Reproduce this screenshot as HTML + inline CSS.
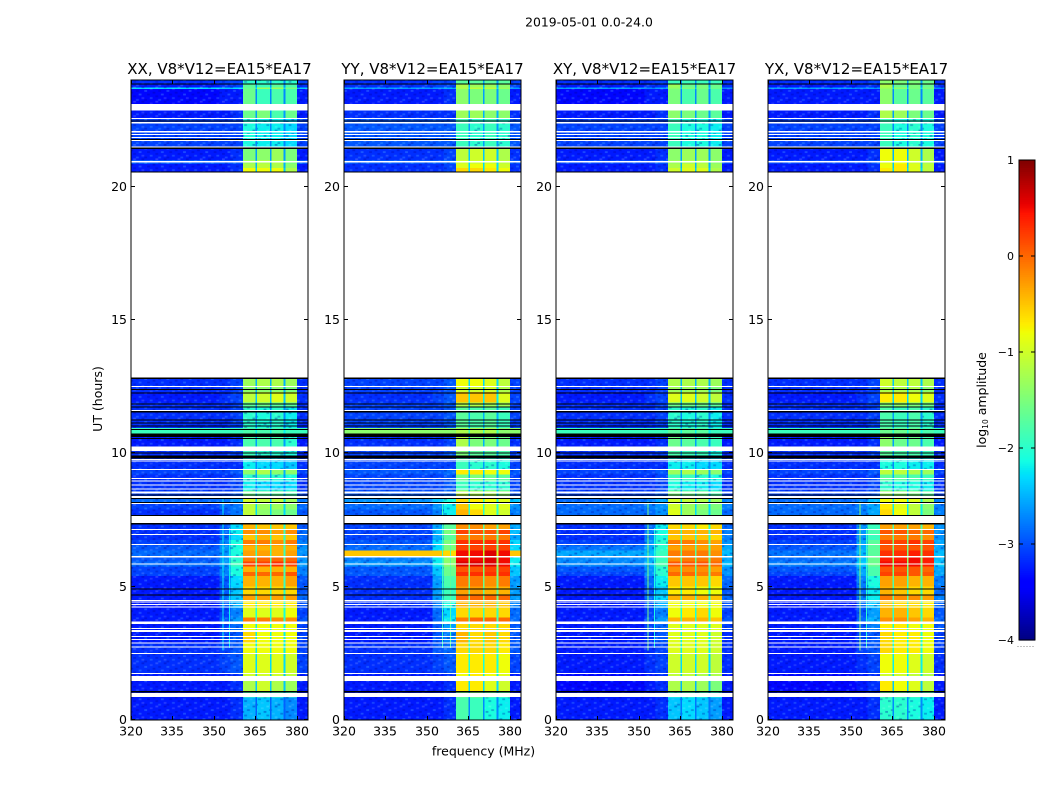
<!DOCTYPE html>
<html lang="en">
<head>
<meta charset="utf-8">
<title>2019-05-01 0.0-24.0</title>
<style>
html,body{margin:0;padding:0;background:#fff;}
#chart{display:block;width:1050px;height:800px;}
text{font-family:"DejaVu Sans","Liberation Sans",sans-serif;fill:#000;}
</style>
</head>
<body>
<svg id="chart" xmlns="http://www.w3.org/2000/svg" width="1050" height="800" viewBox="0 0 1050 800">
  <defs>
    <pattern id="speckle" width="22.2" height="14.4" patternUnits="userSpaceOnUse">
      <rect x="0" y="0" width="2.8" height="1.8" fill="#fff" opacity=".16"/>
      <rect x="8.3" y="0" width="2.8" height="1.8" fill="#0000a0" opacity=".35"/>
      <rect x="16.6" y="1.8" width="2.8" height="1.8" fill="#fff" opacity=".12"/>
      <rect x="2.8" y="3.6" width="2.8" height="1.8" fill="#0000a0" opacity=".3"/>
      <rect x="11.1" y="3.6" width="2.8" height="1.8" fill="#5fc8ff" opacity=".28"/>
      <rect x="19.4" y="5.4" width="2.8" height="1.8" fill="#0000a0" opacity=".35"/>
      <rect x="5.5" y="7.2" width="2.8" height="1.8" fill="#5fc8ff" opacity=".28"/>
      <rect x="13.9" y="7.2" width="2.8" height="1.8" fill="#0000a0" opacity=".3"/>
      <rect x="0" y="9" width="2.8" height="1.8" fill="#0000a0" opacity=".3"/>
      <rect x="8.3" y="10.8" width="2.8" height="1.8" fill="#fff" opacity=".14"/>
      <rect x="16.6" y="10.8" width="2.8" height="1.8" fill="#5fc8ff" opacity=".25"/>
      <rect x="2.8" y="12.6" width="2.8" height="1.8" fill="#5fc8ff" opacity=".25"/>
      <rect x="11.1" y="12.6" width="2.8" height="1.8" fill="#0000a0" opacity=".3"/>
    </pattern>
  </defs>
  <text x="589" y="26.5" text-anchor="middle" font-size="12.4">2019-05-01 0.0-24.0</text>
  <text x="483.5" y="755.5" text-anchor="middle" font-size="12.5">frequency (MHz)</text>
  <text x="0" y="0" transform="translate(102,399) rotate(-90)" text-anchor="middle" font-size="12.5">UT (hours)</text>
  <text x="0" y="0" transform="translate(986,400) rotate(-90)" text-anchor="middle" font-size="12.5">log<tspan font-size="7.5" dy="2">10</tspan><tspan dy="-2"> amplitude</tspan></text>
  <g id="panels"></g>
  <g id="colorbar"></g>
</svg>
<script>
/* ---------- data (log10 amplitude) ---------- */
const panelTitles = ["XX, V8*V12=EA15*EA17","YY, V8*V12=EA15*EA17","XY, V8*V12=EA15*EA17","YX, V8*V12=EA15*EA17"];
const xTickLabels = [320,335,350,365,380];
const yTickLabels = [0,5,10,15,20];
const colorbarTicks = [-4,-3,-2,-1,0,1];

/* frequency bands in MHz; bandColumn says which value of a row each band shows
   (row = background, near-1, near-2, window-1..4, window-gap) */
const freqEdges = [320,352,356,360.5,365,365.6,370.2,370.8,375.2,375.8,380,384];
const bandColumn = [0,1,2,3,7,4,7,5,7,6,1];

/* time bands in UT hours, top to bottom */
const utEdges = [24,23.85,23.72,23.66,22.86,22.55,21.44,21.0,20.85,20.7,20.54,12.85,12.5,12.3,11.9,11.75,10.95,10.73,10.25,9.8,9.41,9.2,8.95,8.6,8.33,8.15,7.9,7.65,7.15,6.95,6.75,6.55,6.35,6.15,5.95,5.75,5.55,5.4,5.0,4.7,4.5,4.2,3.85,3.7,3.35,2.9,2.5,1.76,1.46,1.06,0.85,0];

const xxValues = [
[-3.15,-3.05,-3.05,-2.0,-2.0,-2.0,-2.0,-2.7],[-3.25,-3.15,-3.05,-1.7,-1.9,-1.7,-1.8,-2.6],[-2.3,-2.4,-2.3,-1.6,-1.3,-1.3,-1.5,-2.3],[-3.35,-3.25,-3.25,-1.6,-1.9,-1.8,-1.8,-2.7],[-3.25,-3.25,-3.15,-1.6,-1.5,-1.8,-1.6,-2.6],
[-3.05,-3.05,-3.05,-2.1,-2.2,-2.2,-2.3,-2.7],[-3.25,-3.25,-3.15,-1.5,-1.4,-1.3,-1.5,-2.6],[-2.95,-2.95,-2.95,-1.3,-1.2,-1.2,-1.5,-2.5],[-3.25,-3.25,-3.15,-1.2,-1.1,-1.2,-1.4,-2.5],[-3.25,-3.25,-3.15,-0.8,-0.8,-0.8,-1.2,-2.4],
null,
[-3.15,-3.15,-3.05,-1.3,-1.2,-1.2,-1.3,-2.5],[-3.15,-3.15,-3.05,-1.4,-1.4,-1.4,-1.5,-2.5],[-3.25,-3.15,-3.05,-1.1,-1.0,-0.9,-1.0,-2.4],[-3.15,-3.15,-3.05,-1.7,-1.6,-1.7,-1.7,-2.6],[-3.15,-3.15,-3.05,-2.0,-2.1,-2.0,-2.2,-2.7],
[-1.9,-1.9,-1.9,-1.8,-1.8,-1.8,-1.9,-2.2],[-3.25,-3.25,-3.15,-1.8,-1.8,-1.8,-2.0,-2.6],[-3.15,-3.15,-3.05,-1.9,-2.0,-2.0,-2.1,-2.6],[-3.15,-3.15,-3.15,-2.2,-2.3,-2.3,-2.4,-2.7],[-3.05,-3.05,-2.95,-1.4,-1.2,-1.4,-1.4,-2.5],
[-3.15,-3.15,-3.05,-2.0,-1.9,-2.0,-2.1,-2.6],[-3.15,-3.15,-3.05,-2.2,-2.3,-2.3,-2.3,-2.7],[-3.05,-3.05,-2.95,-1.6,-1.7,-1.7,-1.8,-2.5],[-2.85,-2.8,-2.6,-1.0,-1.1,-1.1,-1.3,-2.3],[-3.05,-2.85,-2.8,-1.1,-1.3,-1.3,-1.4,-2.3],
[-3.15,-2.95,-2.8,-1.1,-1.4,-1.5,-1.6,-2.3],[-3.15,-2.95,-2.3,-0.4,-0.5,-0.5,-0.5,-2.0],[-3.15,-2.85,-2.2,-0.2,-0.2,-0.3,-0.2,-1.9],[-3.15,-2.85,-2.3,-0.5,-0.4,-0.5,-0.5,-2.0],[-3.05,-2.75,-2.1,-0.1,-0.1,-0.2,-0.1,-1.8],
[-2.95,-2.65,-2.1,-0.4,-0.4,-0.4,-0.4,-1.9],[-2.85,-2.65,-2.1,-0.3,-0.3,-0.4,-0.3,-1.9],[-2.95,-2.65,-2.0,-0.1,0.0,0.0,0.0,-1.8],[-2.85,-2.6,-1.9,0.2,0.2,0.3,0.2,-1.7],[-3.05,-2.75,-2.1,-0.4,-0.4,-0.4,-0.4,-1.9],
[-3.05,-2.75,-2.1,0.0,0.0,0.0,0.1,-1.8],[-3.25,-2.95,-2.3,-0.4,-0.4,-0.4,-0.3,-1.9],[-3.25,-2.95,-2.4,-0.6,-0.6,-0.6,-0.6,-2.0],[-3.25,-2.85,-2.4,-0.3,-0.3,-0.3,-0.3,-2.0],[-3.25,-2.95,-2.5,-0.7,-0.7,-0.7,-0.7,-2.1],
[-3.25,-3.05,-2.75,-0.9,-0.9,-0.9,-0.8,-2.1],[-3.25,-2.95,-2.6,-0.1,-0.1,-0.2,-0.2,-2.0],[-3.25,-3.05,-2.85,-0.8,-0.8,-0.8,-0.8,-2.2],[-3.25,-3.05,-2.95,-0.6,-0.8,-0.8,-0.8,-2.2],[-3.15,-3.05,-2.95,-0.8,-0.8,-0.8,-0.8,-2.2],
[-3.15,-3.05,-2.95,-0.9,-0.9,-0.9,-1.0,-2.3],[-3.25,-3.25,-3.15,-1.0,-1.0,-1.0,-1.1,-2.4],[-3.25,-3.25,-3.15,-1.2,-1.0,-1.2,-1.3,-2.4],[-3.25,-3.25,-3.15,-1.9,-1.8,-1.9,-2.0,-2.6],[-3.25,-3.25,-3.15,-2.5,-2.4,-2.5,-2.7,-2.9]
];
const yyValues = [
[-3.15,-3.05,-3.05,-1.7,-1.7,-1.7,-1.7,-2.6],[-3.15,-3.05,-3.05,-1.2,-1.3,-1.3,-1.4,-2.5],[-2.6,-2.6,-2.5,-1.2,-1.1,-1.1,-1.3,-2.3],[-3.25,-3.25,-3.15,-1.4,-1.5,-1.5,-1.6,-2.6],[-3.15,-3.15,-3.15,-1.3,-1.3,-1.4,-1.4,-2.5],
[-2.95,-2.95,-2.95,-1.9,-2.0,-1.9,-2.0,-2.6],[-3.15,-3.15,-3.05,-1.1,-1.0,-1.0,-1.2,-2.4],[-2.95,-2.95,-2.85,-1.0,-1.0,-1.0,-1.1,-2.3],[-3.15,-3.15,-3.05,-0.9,-0.8,-0.8,-1.0,-2.3],[-3.15,-3.15,-3.05,-0.6,-0.6,-0.7,-0.8,-2.3],
null,
[-3.05,-3.05,-2.95,-0.8,-0.8,-0.9,-1.1,-2.3],[-3.05,-3.05,-2.95,-1.0,-1.0,-1.0,-1.2,-2.4],[-3.15,-3.05,-2.95,-0.5,-0.5,-0.5,-0.9,-2.2],[-3.05,-3.05,-2.95,-1.2,-1.2,-1.3,-1.3,-2.4],[-3.05,-3.05,-2.95,-1.7,-1.8,-1.7,-1.9,-2.5],
[-1.4,-1.4,-1.4,-1.2,-1.2,-1.2,-1.4,-1.9],[-3.15,-3.15,-3.05,-1.2,-1.5,-1.5,-1.6,-2.5],[-3.05,-3.05,-2.95,-1.5,-1.7,-1.7,-1.8,-2.5],[-3.05,-3.05,-3.05,-1.9,-2.0,-2.0,-2.1,-2.6],[-2.95,-2.95,-2.85,-0.7,-0.7,-0.8,-0.8,-2.3],
[-3.05,-3.05,-2.95,-1.6,-1.5,-1.6,-1.7,-2.5],[-3.05,-3.05,-2.95,-1.9,-2.0,-2.0,-2.0,-2.6],[-2.95,-2.95,-2.85,-1.1,-1.2,-1.2,-1.4,-2.4],[-2.65,-2.4,-2.1,-0.6,-0.7,-0.8,-0.9,-2.0],[-2.85,-2.65,-2.2,-0.5,-0.8,-0.9,-0.9,-2.0],
[-2.95,-2.75,-2.2,-0.4,-0.6,-0.9,-1.0,-2.0],[-3.05,-2.55,-1.7,-0.2,-0.2,-0.3,-0.3,-1.7],[-3.05,-2.45,-1.5,0.2,0.1,0.1,0.2,-1.5],[-3.05,-2.55,-1.7,-0.1,-0.1,-0.1,-0.1,-1.6],[-2.95,-2.3,-1.5,0.3,0.3,0.3,0.3,-1.4],
[-2.85,-2.3,-1.5,0.2,0.2,0.2,0.2,-1.5],[-0.5,-0.5,-0.6,0.5,0.5,0.6,0.5,-1.0],[-2.75,-2.2,-1.4,0.5,0.5,0.6,0.5,-1.3],[-2.65,-2.2,-1.4,0.6,0.6,0.6,0.5,-1.3],[-2.95,-2.4,-1.6,0.1,0.1,0.2,0.2,-1.5],
[-2.95,-2.4,-1.6,0.3,0.3,0.3,0.3,-1.4],[-3.15,-2.6,-1.8,-0.1,-0.1,-0.2,-0.1,-1.6],[-3.15,-2.6,-1.9,-0.3,-0.3,-0.4,-0.4,-1.7],[-3.15,-2.6,-1.9,0.0,0.0,0.0,0.0,-1.6],[-3.15,-2.75,-2.1,-0.4,-0.4,-0.4,-0.5,-1.8],
[-3.25,-2.85,-2.3,-0.6,-0.6,-0.6,-0.6,-1.9],[-3.25,-2.85,-2.2,-0.1,0.0,0.0,0.0,-1.8],[-3.25,-2.95,-2.6,-0.6,-0.6,-0.6,-0.6,-2.0],[-3.25,-2.95,-2.75,-0.4,-0.6,-0.5,-0.6,-2.0],[-3.15,-2.95,-2.85,-0.6,-0.6,-0.6,-0.7,-2.0],
[-3.15,-3.05,-2.95,-0.7,-0.7,-0.7,-0.8,-2.1],[-3.25,-3.25,-3.15,-0.8,-0.7,-0.8,-0.9,-2.2],[-3.25,-3.25,-3.15,-0.7,-0.7,-0.9,-1.0,-2.3],[-3.25,-3.25,-3.15,-1.6,-1.5,-1.7,-1.8,-2.5],[-3.25,-3.25,-3.15,-1.8,-1.9,-2.1,-2.2,-2.7]
];
const xyValues = [
[-3.15,-3.15,-3.05,-1.9,-1.9,-1.9,-1.9,-2.7],[-3.25,-3.15,-3.15,-1.3,-1.6,-1.5,-1.6,-2.6],[-2.6,-2.7,-2.6,-1.4,-1.5,-1.5,-1.6,-2.4],[-3.35,-3.25,-3.25,-1.5,-1.8,-1.6,-1.8,-2.7],[-3.25,-3.25,-3.15,-1.4,-1.5,-1.6,-1.7,-2.6],
[-3.05,-3.05,-3.05,-1.9,-2.1,-2.1,-2.2,-2.7],[-3.25,-3.25,-3.15,-1.4,-1.3,-1.3,-1.4,-2.6],[-3.05,-3.05,-2.95,-1.3,-1.2,-1.2,-1.4,-2.5],[-3.25,-3.25,-3.15,-1.2,-1.0,-1.1,-1.3,-2.5],[-3.25,-3.25,-3.15,-1.0,-0.9,-0.9,-1.2,-2.4],
null,
[-3.15,-3.15,-3.05,-1.2,-1.2,-1.2,-1.3,-2.5],[-3.15,-3.15,-3.05,-1.3,-1.3,-1.3,-1.5,-2.5],[-3.25,-3.15,-3.05,-0.9,-0.9,-1.0,-1.1,-2.4],[-3.15,-3.15,-3.05,-1.6,-1.6,-1.6,-1.7,-2.6],[-3.15,-3.15,-3.05,-2.0,-2.1,-2.0,-2.2,-2.7],
[-1.9,-1.9,-1.9,-1.7,-1.7,-1.7,-1.9,-2.2],[-3.25,-3.25,-3.15,-1.6,-1.7,-1.8,-1.9,-2.6],[-3.15,-3.15,-3.05,-1.8,-1.9,-1.9,-2.1,-2.6],[-3.15,-3.15,-3.15,-2.2,-2.2,-2.3,-2.3,-2.7],[-3.05,-3.05,-2.95,-1.3,-1.2,-1.3,-1.4,-2.5],
[-3.15,-3.15,-3.05,-1.9,-1.9,-2.0,-2.1,-2.6],[-3.15,-3.15,-3.05,-2.1,-2.2,-2.2,-2.3,-2.7],[-3.05,-3.05,-2.95,-1.5,-1.6,-1.6,-1.8,-2.5],[-2.85,-2.75,-2.55,-1.0,-1.1,-1.2,-1.3,-2.3],[-2.85,-2.75,-2.65,-1.0,-1.3,-1.4,-1.5,-2.3],
[-2.85,-2.85,-2.65,-0.9,-1.3,-1.5,-1.6,-2.3],[-3.15,-2.85,-2.2,-0.6,-0.6,-0.7,-0.6,-2.0],[-3.15,-2.75,-2.1,-0.4,-0.4,-0.4,-0.4,-1.9],[-3.15,-2.75,-2.1,-0.5,-0.5,-0.5,-0.6,-2.0],[-3.05,-2.65,-2.0,-0.1,-0.1,-0.2,-0.3,-1.8],
[-2.8,-2.55,-2.0,-0.3,-0.3,-0.3,-0.3,-1.8],[-2.55,-2.45,-1.9,-0.1,-0.1,-0.1,-0.2,-1.7],[-2.7,-2.55,-1.9,-0.2,-0.1,-0.1,-0.1,-1.7],[-2.7,-2.45,-1.8,0.1,0.1,0.1,0.0,-1.6],[-2.95,-2.65,-2.0,-0.2,-0.2,-0.2,-0.3,-1.8],
[-3.05,-2.65,-2.0,0.0,0.0,-0.1,-0.1,-1.7],[-3.25,-2.85,-2.2,-0.5,-0.5,-0.5,-0.6,-1.9],[-3.25,-2.95,-2.4,-0.7,-0.7,-0.8,-0.8,-2.0],[-3.25,-2.85,-2.3,-0.4,-0.4,-0.4,-0.5,-2.0],[-3.25,-2.95,-2.5,-0.8,-0.8,-0.8,-0.8,-2.1],
[-3.25,-3.05,-2.75,-0.8,-0.7,-0.6,-0.8,-2.1],[-3.25,-2.95,-2.6,-0.4,-0.4,-0.4,-0.5,-2.0],[-3.25,-3.05,-2.85,-0.9,-0.9,-0.9,-0.9,-2.2],[-3.25,-3.15,-2.95,-0.9,-0.9,-0.9,-1.0,-2.2],[-3.25,-3.15,-3.05,-0.9,-0.9,-0.9,-1.0,-2.2],
[-3.25,-3.15,-3.05,-1.0,-1.0,-1.0,-1.1,-2.3],[-3.35,-3.25,-3.15,-1.1,-1.1,-1.2,-1.2,-2.4],[-3.35,-3.25,-3.15,-1.2,-1.2,-1.3,-1.5,-2.5],[-3.25,-3.25,-3.15,-2.0,-1.9,-2.0,-2.1,-2.7],[-3.25,-3.25,-3.15,-2.4,-2.3,-2.4,-2.6,-2.8]
];
const yxValues = [
[-3.15,-3.15,-3.05,-1.4,-1.5,-1.5,-1.6,-2.6],[-3.25,-3.15,-3.15,-1.2,-1.6,-1.5,-1.6,-2.6],[-2.6,-2.7,-2.6,-1.3,-1.4,-1.5,-1.5,-2.3],[-3.25,-3.25,-3.25,-1.4,-1.7,-1.6,-1.7,-2.7],[-3.25,-3.25,-3.15,-1.2,-1.3,-1.5,-1.6,-2.6],
[-3.05,-3.05,-3.05,-1.9,-2.1,-2.0,-2.1,-2.7],[-3.25,-3.25,-3.15,-0.8,-0.8,-1.0,-1.2,-2.5],[-3.05,-3.05,-2.95,-0.9,-0.8,-1.0,-1.2,-2.4],[-3.25,-3.25,-3.15,-0.8,-0.7,-0.9,-1.1,-2.4],[-3.25,-3.25,-3.15,-0.7,-0.7,-0.9,-1.1,-2.3],
null,
[-3.15,-3.15,-3.05,-1.0,-1.1,-1.1,-1.2,-2.4],[-3.15,-3.15,-3.05,-1.2,-1.2,-1.2,-1.4,-2.4],[-3.25,-3.15,-3.05,-0.7,-0.7,-0.8,-0.9,-2.3],[-3.15,-3.15,-3.05,-1.5,-1.4,-1.5,-1.6,-2.5],[-3.15,-3.15,-3.05,-1.8,-1.9,-1.8,-2.0,-2.6],
[-1.9,-1.9,-1.9,-1.6,-1.6,-1.6,-1.8,-2.1],[-3.25,-3.25,-3.15,-1.4,-1.6,-1.6,-1.8,-2.6],[-3.15,-3.15,-3.05,-1.7,-1.8,-1.8,-1.9,-2.6],[-3.15,-3.15,-3.15,-2.1,-2.1,-2.2,-2.2,-2.7],[-3.05,-3.05,-2.95,-1.1,-1.1,-1.2,-1.3,-2.4],
[-3.15,-3.15,-3.05,-1.7,-1.7,-1.8,-1.9,-2.5],[-3.15,-3.15,-3.05,-2.0,-2.1,-2.1,-2.2,-2.7],[-3.05,-3.05,-2.95,-1.3,-1.4,-1.5,-1.7,-2.5],[-2.85,-2.75,-2.45,-0.8,-0.8,-0.9,-1.2,-2.2],[-2.85,-2.75,-2.55,-0.7,-0.9,-1.1,-1.4,-2.2],
[-2.85,-2.75,-2.55,-0.6,-0.8,-1.1,-1.5,-2.2],[-3.15,-2.65,-1.9,-0.3,-0.3,-0.3,-0.4,-1.8],[-3.15,-2.65,-1.8,0.1,0.1,0.0,0.0,-1.6],[-3.15,-2.65,-1.9,-0.1,-0.1,-0.1,-0.2,-1.7],[-3.05,-2.55,-1.7,0.2,0.2,0.3,0.2,-1.5],
[-2.95,-2.55,-1.7,0.1,0.1,0.1,0.1,-1.6],[-2.8,-2.45,-1.7,0.3,0.3,0.4,0.3,-1.5],[-2.85,-2.45,-1.6,0.4,0.4,0.5,0.4,-1.4],[-2.75,-2.35,-1.6,0.5,0.5,0.5,0.4,-1.4],[-2.95,-2.55,-1.8,0.1,0.1,0.1,0.0,-1.6],
[-3.05,-2.55,-1.8,0.2,0.2,0.1,0.1,-1.5],[-3.25,-2.75,-2.1,-0.3,-0.3,-0.4,-0.4,-1.8],[-3.25,-2.85,-2.2,-0.4,-0.5,-0.6,-0.6,-1.9],[-3.25,-2.75,-2.2,-0.1,-0.2,-0.2,-0.3,-1.8],[-3.25,-2.85,-2.4,-0.5,-0.6,-0.6,-0.7,-2.0],
[-3.25,-2.95,-2.6,-0.4,-0.4,-0.5,-0.6,-2.0],[-3.25,-2.85,-2.5,-0.2,-0.2,-0.3,-0.4,-1.9],[-3.25,-2.95,-2.75,-0.7,-0.7,-0.8,-0.8,-2.1],[-3.25,-3.05,-2.95,-0.6,-0.7,-0.7,-0.8,-2.1],[-3.25,-3.05,-2.95,-0.6,-0.7,-0.7,-0.8,-2.1],
[-3.25,-3.15,-3.05,-0.8,-0.8,-0.9,-1.0,-2.2],[-3.35,-3.25,-3.15,-1.0,-1.0,-1.1,-1.2,-2.3],[-3.35,-3.25,-3.15,-0.7,-0.8,-0.9,-1.1,-2.4],[-3.25,-3.25,-3.15,-1.7,-1.7,-1.8,-1.9,-2.6],[-3.25,-3.25,-3.15,-2.0,-2.0,-2.1,-2.2,-2.7]
];
const panelValues = [xxValues, yyValues, xyValues, yxValues];

/* missing data (drawn white) and flagged data (drawn black), UT hours */
const missingStart = [23.10,22.58,22.43,22.09,21.98,21.86,21.75,21.51,20.96,20.54,12.53,11.63,10.25,9.79,9.73,9.41,9.08,8.98,8.83,8.68,8.56,8.40,8.14,7.65,7.16,6.98,6.60,6.15,5.87,4.50,4.44,4.35,4.26,3.69,3.45,3.38,3.15,3.04,2.91,2.76,2.51,1.76,1.65,1.02];
const missingEnd   = [22.86,22.53,22.37,22.03,21.94,21.83,21.71,21.47,20.91,12.84,12.49,11.59,10.09,9.75,9.69,9.38,9.04,8.94,8.79,8.64,8.49,8.33,8.10,7.38,7.13,6.94,6.56,6.10,5.83,4.46,4.41,4.31,4.22,3.60,3.41,3.30,3.11,3.00,2.87,2.72,2.48,1.73,1.46,0.87];
const flaggedStart = [23.87,22.89,22.49,21.78,21.46,20.57,12.86,12.41,12.28,11.87,11.75,11.58,11.27,11.16,11.04,10.92,10.75,10.57,10.03,9.91,8.46,8.33,8.18,7.68,7.38,4.94,4.70,1.08];
const flaggedEnd   = [23.83,22.85,22.45,21.74,21.42,20.53,12.78,12.37,12.24,11.83,11.71,11.54,11.23,11.12,11.00,10.88,10.62,10.53,9.99,9.80,8.42,8.29,8.14,7.64,7.34,4.90,4.66,1.04];

/* narrow spurs: panel index, MHz, UT from, UT to, level */
const spurPanel = [0,0,1,1,2,2,3,3];
const spurFreq  = [353.3,355.7,355.7,358.5,353.2,355.7,353.2,355.7];
const spurFrom  = [8.3,7.2,8.2,7.2,8.2,7.2,8.2,7.2];
const spurTo    = [2.6,2.7,2.7,2.7,2.6,2.7,2.6,2.7];
const spurLevel = [-2.2,-2.2,-1.9,-1.7,-1.5,-2.1,-1.4,-2.0];

/* ---------- axes ---------- */
const NS = "http://www.w3.org/2000/svg";
const panelLefts = [131,344,556,768];
const panelWidth = 177, plotTop = 80, plotBottom = 720;
const fMin = 320, fMax = 384, utMin = 0, utMax = 24;
const vMin = -4, vMax = 1;
const speckleBelow = -1.95;
const cbLeft = 1019, cbWidth = 16, cbTop = 160, cbBottom = 640;

function xScale(left, f){ return left + (f - fMin) / (fMax - fMin) * panelWidth; }
function yScale(ut){ return plotBottom - (ut - utMin) / (utMax - utMin) * (plotBottom - plotTop); }
function cbScale(v){ return cbBottom - (v - vMin) / (vMax - vMin) * (cbBottom - cbTop); }

function lerpStops(t, xs, ys){
  for (let i = 1; i < xs.length; i++) {
    if (t <= xs[i]) return ys[i-1] + (ys[i] - ys[i-1]) * (t - xs[i-1]) / (xs[i] - xs[i-1]);
  }
  return ys[ys.length-1];
}
function jet(v){
  const t = Math.min(1, Math.max(0, (v - vMin) / (vMax - vMin)));
  const r = lerpStops(t, [0,.35,.66,.89,1], [0,0,1,1,.5]);
  const g = lerpStops(t, [0,.125,.375,.64,.91,1], [0,0,1,1,0,0]);
  const b = lerpStops(t, [0,.11,.34,.65,1], [.5,1,1,0,0]);
  return "rgb(" + Math.round(r*255) + "," + Math.round(g*255) + "," + Math.round(b*255) + ")";
}
function mk(tag, parent, attrs){
  const el = document.createElementNS(NS, tag);
  for (const k in attrs) el.setAttribute(k, attrs[k]);
  parent.appendChild(el);
  return el;
}
function fmt(v){ return String(v).replace("-", "\u2212"); }

const panelsRoot = document.getElementById("panels");

panelTitles.forEach(function(title, p){
  const left = panelLefts[p];
  const g = mk("g", panelsRoot, {});
  
  

  /* heatmap cells */
  const cells = mk("g", g, {"shape-rendering":"crispEdges"});
  
  
  panelValues[p].forEach(function(row, r){
    if (!row) return;
    const y0 = yScale(utEdges[r]), y1 = yScale(utEdges[r+1]);
    bandColumn.forEach(function(col, b){
      const x0 = xScale(left, freqEdges[b]), x1 = xScale(left, freqEdges[b+1]);
      const cell = mk("rect", cells, {x:x0, y:y0, width:x1-x0, height:y1-y0, fill:jet(row[col])});
      
      
      if (row[col] < speckleBelow && col !== 7) {
        const tex = mk("rect", cells, {x:x0, y:y0, width:x1-x0, height:y1-y0, fill:"url(#speckle)"});
        
        
      }
    });
  });

  /* spurs */
  spurPanel.forEach(function(sp, i){
    if (sp !== p) return;
    const spur = mk("rect", g, {x:xScale(left,spurFreq[i])-0.5, y:yScale(spurFrom[i]), width:1, height:yScale(spurTo[i])-yScale(spurFrom[i]), fill:jet(spurLevel[i]), "shape-rendering":"crispEdges"});
    
    
  });

  /* flagged then missing rows */
  flaggedStart.forEach(function(u, i){
    const fl = mk("rect", g, {x:left, y:yScale(u), width:panelWidth, height:Math.max(1,yScale(flaggedEnd[i])-yScale(u)), fill:"#000", "shape-rendering":"crispEdges"});
    
    
  });
  missingStart.forEach(function(u, i){
    const ms = mk("rect", g, {x:left, y:yScale(u), width:panelWidth, height:Math.max(1,yScale(missingEnd[i])-yScale(u)), fill:"#fff", "shape-rendering":"crispEdges"});
    
    
  });

  /* frame */
  const frame = mk("rect", g, {x:left, y:plotTop, width:panelWidth, height:plotBottom-plotTop, fill:"none", stroke:"#000", "stroke-width":1});
  
  

  /* x ticks */
  xTickLabels.forEach(function(tv){
    const x = Math.round(xScale(left, tv)) + 0.5;
    const tb = mk("line", g, {x1:x, x2:x, y1:plotBottom, y2:plotBottom-4, stroke:"#000"});
    
    
    const tt = mk("line", g, {x1:x, x2:x, y1:plotTop, y2:plotTop+4, stroke:"#000"});
    
    
    const lb = mk("text", g, {x:x-0.5, y:735.5, "text-anchor":"middle", "font-size":12.5});
    
    
    lb.textContent = tv;
  });

  /* y ticks */
  yTickLabels.forEach(function(tv){
    const y = Math.round(yScale(tv)) - 0.5;
    const tl = mk("line", g, {x1:left, x2:left+4, y1:y, y2:y, stroke:"#000"});
    
    
    const tr = mk("line", g, {x1:left+panelWidth, x2:left+panelWidth-4, y1:y, y2:y, stroke:"#000"});
    
    
    const lb = mk("text", g, {x:left-4, y:y+4.5, "text-anchor":"end", "font-size":12.5});
    
    
    lb.textContent = tv;
  });

  /* title */
  const ttl = mk("text", g, {x:left+panelWidth/2, y:74, "text-anchor":"middle", "font-size":15});
  
  
  ttl.textContent = title;
});

/* ---------- colorbar ---------- */
const cbRoot = document.getElementById("colorbar");
const cbSteps = 256;
for (let i = 0; i < cbSteps; i++) {
  const v0 = vMin + (vMax - vMin) * i / cbSteps;
  const v1 = vMin + (vMax - vMin) * (i + 1) / cbSteps;
  const seg = mk("rect", cbRoot, {x:cbLeft, y:cbScale(v1), width:cbWidth, height:cbScale(v0)-cbScale(v1)+0.6, fill:jet((v0+v1)/2)});
  
  
}
const cbFrame = mk("rect", cbRoot, {x:cbLeft, y:cbTop, width:cbWidth, height:cbBottom-cbTop, fill:"none", stroke:"#000", "stroke-width":1});


colorbarTicks.forEach(function(tv){
  const y = cbScale(tv);
  const tl = mk("line", cbRoot, {x1:cbLeft, x2:cbLeft+4, y1:y, y2:y, stroke:"#000"});
  
  
  const tr = mk("line", cbRoot, {x1:cbLeft+cbWidth, x2:cbLeft+cbWidth-4, y1:y, y2:y, stroke:"#000"});
  
  
  const lb = mk("text", cbRoot, {x:cbLeft-5, y:y+4, "text-anchor":"end", "font-size":11});
  
  
  lb.textContent = fmt(tv);
});
const cbDots = mk("line", cbRoot, {x1:1017.5, x2:1035.5, y1:646.5, y2:646.5, stroke:"#888", "stroke-width":1, "stroke-dasharray":"1 2"});


</script>
</body>
</html>
